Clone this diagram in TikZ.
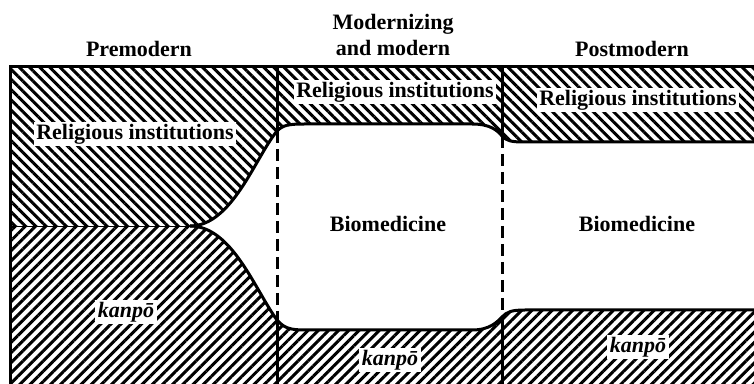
\documentclass[tikz,border=0pt]{standalone}
\usepackage{fontspec}
\setmainfont{Liberation Serif}
\usetikzlibrary{patterns.meta}

\tikzset{
  relhatch/.style={pattern={Lines[angle=-45,distance=3.6pt,line width=1.5pt]}},
  kanhatch/.style={pattern={Lines[angle=45,distance=3.6pt,line width=1.5pt]}},
  edgeline/.style={line width=1.5pt},
  divider/.style={line width=1.5pt, dash pattern=on 6pt off 3pt},
  lbl/.style={fill=white, inner sep=1.2pt, font=\fontsize{11}{13}\selectfont\bfseries},
  hdr/.style={align=center, inner sep=0pt, font=\fontsize{11}{13}\selectfont\bfseries}
}

\begin{document}
\begin{tikzpicture}[x=0.5pt,y=-0.5pt]
  \useasboundingbox (0,0) rectangle (754,384);
  \coordinate (tl) at (10,67);
  \coordinate (bl) at (10,384);
  \coordinate (split) at (190,226);
  \coordinate (ra) at (277,131);
  \coordinate (rb) at (502,136);
  \coordinate (ka) at (277,320);
  \coordinate (kb) at (502,317);

  % religious institutions
  \fill[relhatch] (tl) -- (10,226) -- (split) .. controls (232,226) and (255,158) .. (ra)
    .. controls (283,125) and (289,124) .. (305,124) -- (472,124)
    .. controls (490,124) and (497,130) .. (rb) .. controls (507,141) and (511,142) .. (525,142)
    -- (754,142) -- (754,67) -- cycle;
  % kanpo
  \fill[kanhatch] (bl) -- (10,226) -- (split) .. controls (232,226) and (255,290) .. (ka)
    .. controls (284,328) and (290,330) .. (305,330) -- (472,330)
    .. controls (490,330) and (497,322) .. (kb) .. controls (507,312) and (511,310) .. (525,310)
    -- (754,310) -- (754,384) -- cycle;

  % outlines
  \draw[edgeline] (bl) -- (tl) -- (754,67);
  \draw[line width=0.4pt] (10,226) -- (split);
  \draw[edgeline] (split) .. controls (232,226) and (255,158) .. (ra)
    .. controls (283,125) and (289,124) .. (305,124) -- (472,124)
    .. controls (490,124) and (497,130) .. (rb) .. controls (507,141) and (511,142) .. (525,142)
    -- (754,142);
  \draw[edgeline] (split) .. controls (232,226) and (255,290) .. (ka)
    .. controls (284,328) and (290,330) .. (305,330) -- (472,330)
    .. controls (490,330) and (497,322) .. (kb) .. controls (507,312) and (511,310) .. (525,310)
    -- (754,310);

  % period dividers
  \draw[edgeline] (277,67) -- (ra);
  \draw[divider] (ra) -- (ka);
  \draw[edgeline] (ka) -- (277,384);
  \draw[edgeline] (502,67) -- (rb);
  \draw[divider] (rb) -- (kb);
  \draw[edgeline] (kb) -- (502,384);

  % headers
  \node[hdr] (pre) at (139,49) {Premodern};
  \node[hdr] (mod) at (393,35) {Modernizing\\and modern};
  \node[hdr] (post) at (632,49) {Postmodern};

  % labels
  \node[lbl] (rel1) at (135,134) {Religious institutions};
  \node[lbl] (rel2) at (395,92) {Religious institutions};
  \node[lbl] (rel3) at (638,100) {Religious institutions};
  \node[lbl, fill=none] (bio2) at (388,224) {Biomedicine};
  \node[lbl, fill=none] (bio3) at (637,224) {Biomedicine};
  \node[lbl, font=\fontsize{11}{13}\selectfont\bfseries\itshape] (kan1) at (126,312) {kanpō};
  \node[lbl, font=\fontsize{11}{13}\selectfont\bfseries\itshape] (kan2) at (390,360) {kanpō};
  \node[lbl, font=\fontsize{11}{13}\selectfont\bfseries\itshape] (kan3) at (638,347) {kanpō};
\end{tikzpicture}
\end{document}
